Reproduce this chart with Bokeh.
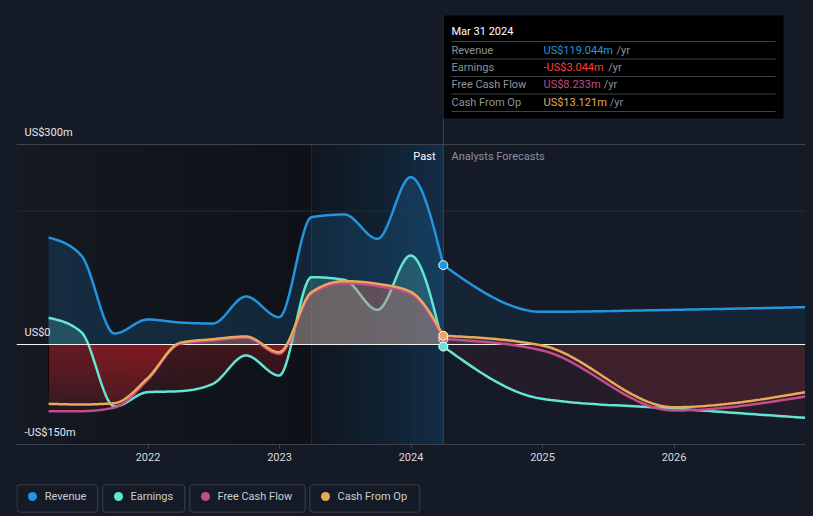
import numpy as np
from datetime import date
from bokeh.plotting import figure
from bokeh.layouts import column
from bokeh.models import Range1d, FixedTicker
from bokeh.core.properties import value
from bokeh.embed import file_html
from bokeh.resources import INLINE

# ---------------- data (US$ m, trailing twelve months) ----------------
past_dates = ["2021-03-31", "2021-06-30", "2021-09-30", "2021-12-31",
              "2022-03-31", "2022-06-30", "2022-09-30", "2022-12-31",
              "2023-03-31", "2023-06-30", "2023-09-30", "2023-12-31",
              "2024-03-31"]
revenue_past = [160.5, 133.5, 16.5, 37.5, 33, 31.5, 72, 41, 191, 195, 158.5, 251, 119.044]
earnings_past = [40, 18.5, -93, -71.5, -70, -59, -16.5, -46.5, 101, 97, 52, 133.5, -3.044]
fcf_past = [-100, -100, -94.5, -53, 1, 6, 10, -14, 76, 92, 87.5, 76, 8.233]
cfo_past = [-89, -90, -88, -50.5, 2.5, 8, 12, -11.5, 78.5, 95, 91, 79, 13.121]

fc_dates = ["2024-03-31", "2024-12-31", "2025-12-31", "2026-12-31"]
revenue_fc = [119.044, 49, 52, 56]
earnings_fc = [-3.044, -81.5, -96, -110]
fcf_fc = [8.233, -9, -99, -78]
cfo_fc = [13.121, -1.5, -94, -71.5]

year_ticks = [2022, 2023, 2024, 2025, 2026]
series_names = ["Revenue", "Earnings", "Free Cash Flow", "Cash From Op"]
series_colors = ["#2394df", "#64e4d2", "#c64b8c", "#e8a95a"]
tooltip_date = "Mar 31 2024"
tooltip_values = ["US$119.044m", "-US$3.044m", "US$8.233m", "US$13.121m"]
tooltip_value_colors = ["#2394df", "#f4433b", "#c64b8c", "#e8a95a"]
y_label_values = [300, 0, -150]
y_label_texts = ["US$300m", "US$0", "-US$150m"]

BG = "#151b26"
FONT = "Roboto"
NEG_RED = "#e0434b"


def dec_year(s):
    d = date.fromisoformat(s)
    a = date(d.year, 1, 1)
    b = date(d.year + 1, 1, 1)
    return d.year + (d - a).days / (b - a).days


def monotone(xs, ys, n=30):
    x = np.asarray(xs, float)
    y = np.asarray(ys, float)
    N = len(x)
    h = np.diff(x)
    s = np.diff(y) / h
    m = np.zeros(N)
    sg = lambda v: -1.0 if v < 0 else 1.0
    for i in range(1, N - 1):
        p_ = (s[i - 1] * h[i] + s[i] * h[i - 1]) / (h[i - 1] + h[i])
        m[i] = (sg(s[i - 1]) + sg(s[i])) * min(abs(s[i - 1]), abs(s[i]), 0.5 * abs(p_))
    if N > 2:
        m[0] = (3 * s[0] - m[1]) / 2
        m[-1] = (3 * s[-1] - m[-2]) / 2
    else:
        m[:] = s[0]
    X, Y = [], []
    for i in range(N - 1):
        t = np.linspace(0, 1, n, endpoint=(i == N - 2))
        h00 = 2 * t**3 - 3 * t**2 + 1
        h10 = t**3 - 2 * t**2 + t
        h01 = -2 * t**3 + 3 * t**2
        h11 = t**3 - t**2
        X.append(x[i] + t * h[i])
        Y.append(h00 * y[i] + h10 * h[i] * m[i] + h01 * y[i + 1] + h11 * h[i] * m[i + 1])
    return np.concatenate(X), np.concatenate(Y)


def lerp(c1, c2, t):
    a = [int(c1[i:i + 2], 16) for i in (1, 3, 5)]
    b = [int(c2[i:i + 2], 16) for i in (1, 3, 5)]
    return "#%02x%02x%02x" % tuple(int(round(a[k] + (b[k] - a[k]) * t)) for k in range(3))


# ---------------- geometry (page pixels) ----------------
X0, PXYR = 2021.0, 131.5          # frame left edge (page px 16) and px per year
Y0, PXM = -150.0, 1.0 / 1.5        # frame bottom (page px 444) and px per US$m
FRAME_L, FRAME_R, FRAME_T, FRAME_B = 16, 805, 8, 444
FW, FH = FRAME_R - FRAME_L, FRAME_B - FRAME_T


def PX(px):
    return X0 + (px - FRAME_L) / PXYR


def PY(py):
    return Y0 + (FRAME_B - py) / PXM


p = figure(width=813, height=474, output_backend="svg", toolbar_location=None,
           x_range=Range1d(X0, X0 + FW / PXYR), y_range=Range1d(Y0, Y0 + FH / PXM),
           y_axis_location=None, min_border_left=FRAME_L, min_border_right=8,
           min_border_top=FRAME_T, min_border_bottom=30)
p.background_fill_color = BG
p.border_fill_color = BG
p.outline_line_color = None
p.grid.visible = False

tp = [dec_year(d) for d in past_dates]
tf = [dec_year(d) for d in fc_dates]
t_start, t_now = tp[0], tp[-1]
t_hl = dec_year("2023-03-31")
x_end = X0 + FW / PXYR
top_v = 300

# dark box before the highlighted year
nb = 30
edges = np.linspace(X0, t_hl, nb + 1)
p.quad(left=edges[:-1], right=edges[1:], top=top_v, bottom=Y0,
       fill_color=[lerp("#141922", "#0e1218", i / (nb - 1)) for i in range(nb)], line_color=None)
# blue "past" highlight
edges = np.linspace(t_hl, t_now, nb + 1)
p.quad(left=edges[:-1], right=edges[1:], top=top_v, bottom=Y0,
       fill_color=[lerp("#0f1822", "#132d46", (i / (nb - 1)) ** 1.3) for i in range(nb)], line_color=None)
p.segment(x0=[t_hl], y0=[top_v], x1=[t_hl], y1=[Y0], line_color="#1d2a37", line_width=1)

# grid lines
p.segment(x0=[X0], y0=[300], x1=[x_end], y1=[300], line_color="#3e434c", line_width=1)
p.segment(x0=[X0], y0=[200], x1=[x_end], y1=[200], line_color="#262c37", line_width=1)

# curves
curves_p = [monotone(tp, s) for s in (revenue_past, earnings_past, fcf_past, cfo_past)]
curves_f = [monotone(tf, s) for s in (revenue_fc, earnings_fc, fcf_fc, cfo_fc)]

# positive fills: revenue, earnings
(xr, yr), (xe, ye) = curves_p[0], curves_p[1]
p.varea(x=xr, y1=0, y2=np.maximum(yr, 0), fill_color=series_colors[0], fill_alpha=0.17)
xrf, yrf = curves_f[0]
p.varea(x=xrf, y1=0, y2=np.maximum(yrf, 0), fill_color=series_colors[0], fill_alpha=0.09)
p.varea(x=xe, y1=0, y2=np.maximum(ye, 0), fill_color=series_colors[1], fill_alpha=0.2)

# negative fills (red, fading with depth in the past)
K = 20
for k in (1, 2, 3):
    xx, yy = curves_p[k]
    yn = np.minimum(yy, 0)
    p.varea(x=xx, y1=0, y2=yn, fill_color=NEG_RED, fill_alpha=0.045)
    for j in range(K):
        lvl = -110.0 * (j + 1) / K
        p.varea(x=xx, y1=0, y2=np.maximum(yn, lvl), fill_color=NEG_RED, fill_alpha=0.012)
    xx, yy = curves_f[k]
    p.varea(x=xx, y1=0, y2=np.minimum(yy, 0), fill_color=NEG_RED, fill_alpha=0.075)

# earnings line (under the cash-flow fills)
p.line(xe, ye, line_color=series_colors[1], line_width=2.5)
xef, yef = curves_f[1]
p.line(xef, yef, line_color=series_colors[1], line_width=2.5)

# positive fills for FCF / CFO
for k in (2, 3):
    xx, yy = curves_p[k]
    p.varea(x=xx, y1=0, y2=np.maximum(yy, 0), fill_color=series_colors[k], fill_alpha=0.22)
    xx, yy = curves_f[k]
    p.varea(x=xx, y1=0, y2=np.maximum(yy, 0), fill_color=series_colors[k], fill_alpha=0.1)

# zero line
p.segment(x0=[X0], y0=[0], x1=[x_end], y1=[0], line_color="#f2f2f2", line_width=1)

# other lines
for k in (0, 2, 3):
    for xx, yy in (curves_p[k], curves_f[k]):
        p.line(xx, yy, line_color=series_colors[k], line_width=2.5)

# hover cursor line
p.segment(x0=[t_now], y0=[PY(15)], x1=[t_now], y1=[Y0], line_color="#2b4861", line_width=1)

# markers at the latest data point
order = [0, 2, 3, 1]
last_vals = [revenue_past[-1], earnings_past[-1], fcf_past[-1], cfo_past[-1]]
p.scatter(x=[t_now] * 4, y=[last_vals[i] for i in order], size=9,
          fill_color=[series_colors[i] for i in order], line_color="white", line_width=1)

# tooltip
p.quad(left=[PX(443)], right=[PX(783)], top=[PY(15)], bottom=[PY(118)],
       fill_color="#000000", line_color=None)
sep_y = [41, 58.5, 76, 93.5, 111]
p.segment(x0=[PX(451)] * 5, x1=[PX(775)] * 5, y0=[PY(v) for v in sep_y], y1=[PY(v) for v in sep_y],
          line_color="#3f4246", line_width=1)
p.text(x=[PX(451)], y=[PY(31)], text=[tooltip_date], text_font=value(FONT),
       text_font_size="11px", text_color="#ffffff", text_baseline="middle", text_align="left")
row_y = [49.5, 67, 84.3, 101.7]
p.text(x=[PX(451)] * 4, y=[PY(v) for v in row_y], text=series_names, text_font=value(FONT),
       text_font_size="11px", text_color="#8e939a", text_baseline="middle", text_align="left")
p.text(x=[PX(543)] * 4, y=[PY(v) for v in row_y], text=tooltip_values, text_font=value(FONT),
       text_font_size="11px", text_color=tooltip_value_colors, text_baseline="middle", text_align="left")
yr_x = [616, 607.7, 603.3, 609.3]
p.text(x=[PX(v) for v in yr_x], y=[PY(v) for v in row_y], text=["/yr"] * 4, text_font=value(FONT),
       text_font_size="11px", text_color="#8e939a", text_baseline="middle", text_align="left")

# y labels
p.text(x=[PX(24)] * 3, y=[v + 12 / PXM for v in y_label_values], text=y_label_texts,
       text_font=value(FONT), text_font_size="11px", text_color="#e6e8eb",
       text_baseline="middle", text_align="left")

# Past / forecast labels
p.text(x=[PX(435)], y=[PY(156)], text=["Past"], text_font=value(FONT), text_font_size="11px",
       text_color="#ffffff", text_baseline="middle", text_align="right")
p.text(x=[PX(451)], y=[PY(156)], text=["Analysts Forecasts"], text_font=value(FONT),
       text_font_size="11px", text_color="#8b9099", text_baseline="middle", text_align="left")

# x axis
ax = p.xaxis[0]
ax.ticker = FixedTicker(ticks=year_ticks)
ax.axis_line_color = "#3b414c"
ax.major_tick_line_color = "#3b414c"
ax.major_tick_out = 4
ax.major_tick_in = 0
ax.minor_tick_line_color = None
ax.major_label_text_color = "#d6d9de"
ax.major_label_text_font = FONT
ax.major_label_text_font_size = "11px"
ax.major_label_standoff = 4

# ---------------- legend strip (x in page px, y from top of strip) ----------------
leg = figure(width=813, height=42, output_backend="svg", toolbar_location=None,
             x_range=Range1d(FRAME_L, FRAME_R), y_range=Range1d(42, 0),
             x_axis_location=None, y_axis_location=None,
             min_border_left=FRAME_L, min_border_right=8, min_border_top=0, min_border_bottom=0)
leg.background_fill_color = BG
leg.border_fill_color = BG
leg.outline_line_color = None
leg.grid.visible = False
box_l = [16.5, 102.3, 189.3, 309.3]
box_r = [97.3, 184.3, 304.7, 419.3]
dot_x = [32, 118, 205, 325]
txt_x = [44.3, 130, 217, 337]
leg.quad(left=box_l, right=box_r, top=[10.3] * 4, bottom=[37.7] * 4,
         fill_color=BG, line_color="#3b404b", line_width=1, border_radius=3)
leg.scatter(x=dot_x, y=[22] * 4, size=9, fill_color=series_colors, line_color=None)
leg.text(x=txt_x, y=[22] * 4, text=series_names, text_font=value(FONT),
         text_font_size="11px", text_color="#c9cdd3", text_baseline="middle", text_align="left")

layout = column(p, leg, spacing=0)
layout.styles = {"background-color": BG}
open("out.html", "w").write(file_html(layout, INLINE))
